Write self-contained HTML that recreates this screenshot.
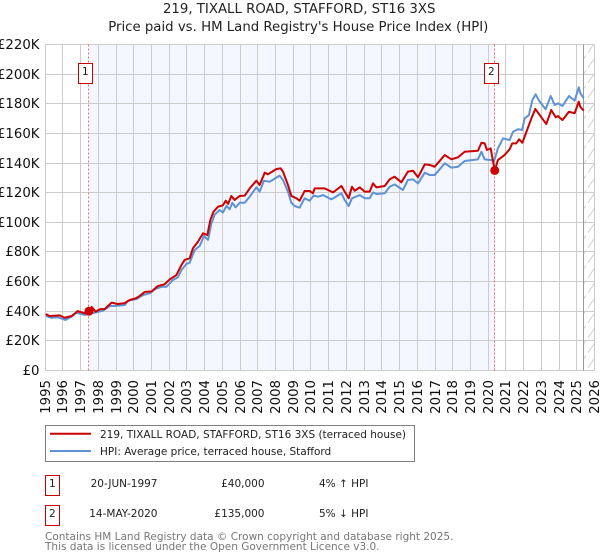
<!DOCTYPE html>
<html>
<head>
<meta charset="utf-8">
<title>219, TIXALL ROAD, STAFFORD, ST16 3XS</title>
<style>
html,body{margin:0;padding:0;background:#fff;}
svg{display:block;font-family:"DejaVu Sans","Liberation Sans",sans-serif;}
</style>
</head>
<body>
<svg id="chart" xmlns="http://www.w3.org/2000/svg" width="600" height="560" viewBox="0 0 600 560">
  <defs>
    <pattern id="hatch" patternUnits="userSpaceOnUse" width="10.5" height="15">
      <path d="M-2 10.5 L8.5 -4.5 M8.5 25.5 L19 10.5 M-2 25.5 L8.5 10.5" stroke="#d0d0d0" stroke-width="1" fill="none"/>
    </pattern>
  </defs>
  <text x="299.2" y="13" text-anchor="middle" font-size="13.3" fill="#222">219, TIXALL ROAD, STAFFORD, ST16 3XS</text>
  <text x="298.3" y="31" text-anchor="middle" font-size="13.3" fill="#222">Price paid vs. HM Land Registry's House Price Index (HPI)</text>
  <g id="plot"></g>

  <g>
    <rect x="45.5" y="425.5" width="369" height="36" fill="#fff" stroke="#808080"/>
    <line x1="50" x2="91" y1="433.7" y2="433.7" stroke="#cc0000" stroke-width="2"/>
    <text x="100" y="438" font-size="10.5" fill="#222">219, TIXALL ROAD, STAFFORD, ST16 3XS (terraced house)</text>
    <line x1="50" x2="91" y1="451" y2="451" stroke="#5f92d4" stroke-width="2"/>
    <text x="100" y="455" font-size="10.5" fill="#222">HPI: Average price, terraced house, Stafford</text>
  </g>

  <g>
    <rect x="45.5" y="475.5" width="14" height="20" fill="#fff" stroke="#cc0000"/>
    <text x="52.3" y="487" text-anchor="middle" font-size="10.5" fill="#222">1</text>
    <text x="157.5" y="487" text-anchor="end" font-size="10.5" fill="#222">20-JUN-1997</text>
    <text x="264.5" y="487" text-anchor="end" font-size="10.5" fill="#222">£40,000</text>
    <text x="319" y="487" font-size="10.5" fill="#222">4% ↑ HPI</text>
  </g>
  <g>
    <rect x="45.5" y="505.5" width="14" height="20" fill="#fff" stroke="#cc0000"/>
    <text x="52.3" y="517" text-anchor="middle" font-size="10.5" fill="#222">2</text>
    <text x="157.5" y="517" text-anchor="end" font-size="10.5" fill="#222">14-MAY-2020</text>
    <text x="264.5" y="517" text-anchor="end" font-size="10.5" fill="#222">£135,000</text>
    <text x="319" y="517" font-size="10.5" fill="#222">5% ↓ HPI</text>
  </g>
  <text x="45" y="540" font-size="10.5" fill="#777">Contains HM Land Registry data © Crown copyright and database right 2025.</text>
  <text x="45" y="550" font-size="10.5" fill="#777">This data is licensed under the Open Government Licence v3.0.</text>
</svg>
<script>
const yearTicks = [1995,1996,1997,1998,1999,2000,2001,2002,2003,2004,2005,2006,2007,2008,2009,2010,2011,2012,2013,2014,2015,2016,2017,2018,2019,2020,2021,2022,2023,2024,2025,2026];
const valueTicks = [0,20,40,60,80,100,120,140,160,180,200,220];
const saleNumbers = [1,2];
const saleYears = [1997.47,2020.37];
const salePrices = [40,135];
const todayYear = 2025.39;

const hpiYears = [1995.03,1995.35,1995.72,1996.14,1996.48,1996.76,1997.23,1997.79,1998.26,1998.64,1998.92,1999.49,1999.67,2000.15,2000.52,2000.90,2001.18,2001.56,2001.84,2002.21,2002.49,2002.69,2002.97,2003.15,2003.44,2003.72,2003.96,2004.19,2004.38,2004.57,2004.85,2005.03,2005.23,2005.41,2005.56,2005.75,2005.98,2006.26,2006.54,2006.92,2007.10,2007.35,2007.67,2008.23,2008.42,2008.70,2008.89,2009.08,2009.36,2009.64,2009.93,2010.15,2010.40,2010.68,2011.15,2011.72,2011.90,2012.13,2012.31,2012.75,2013.03,2013.31,2013.50,2013.69,2014.16,2014.44,2014.72,2015.19,2015.47,2015.76,2016.04,2016.42,2016.70,2016.98,2017.55,2017.92,2018.30,2018.67,2019.42,2019.62,2019.80,2020.18,2020.35,2020.55,2020.84,2021.21,2021.40,2021.68,2021.91,2022.06,2022.30,2022.49,2022.68,2022.87,2023.24,2023.53,2023.75,2023.94,2024.19,2024.56,2024.88,2025.11,2025.20,2025.39];
const hpiValues = [36.8,35.6,35.9,34.1,36.3,39.0,37.5,39.0,40.4,43.5,43.5,44.2,47.1,48.2,50.9,52.1,54.8,56.5,56.5,61.1,62.9,67.8,71.9,72.7,81.3,84.0,90.8,88.1,99.3,105.3,108.3,106.6,111.1,108.8,113.2,110.1,113.2,113.2,117.3,123.6,120.7,128.1,127.4,131.5,128.6,120.7,113.2,111.0,109.9,116.2,114.6,118.0,117.3,118.4,115.5,119.6,115.1,111.0,116.2,118.4,116.2,116.2,120.2,119.1,119.6,124.0,125.6,121.8,128.6,129.0,126.3,133.5,131.9,131.9,139.8,136.9,137.5,141.4,142.5,147.6,142.5,142.0,142.0,149.9,156.7,155.5,161.1,162.8,162.3,170.2,172.4,182.5,186.4,182.1,176.3,185.2,179.2,180.3,178.5,185.2,182.1,191.1,187.1,183.7];

const priceYears = [1995.03,1995.25,1995.82,1996.10,1996.50,1996.83,1997.23,1997.47,1997.62,1997.85,1998.08,1998.36,1998.75,1999.09,1999.49,1999.77,2000.11,2000.33,2000.62,2001.01,2001.35,2001.74,2002.03,2002.40,2002.69,2002.87,2003.15,2003.34,2003.62,2003.91,2004.15,2004.32,2004.50,2004.75,2005.03,2005.19,2005.32,2005.51,2005.69,2005.98,2006.26,2006.54,2006.92,2007.10,2007.39,2007.57,2008.05,2008.29,2008.42,2008.70,2008.89,2009.18,2009.36,2009.64,2009.93,2010.11,2010.21,2010.77,2011.24,2011.72,2011.90,2012.13,2012.31,2012.47,2012.75,2013.03,2013.31,2013.50,2013.69,2014.16,2014.44,2014.72,2015.10,2015.47,2015.76,2016.04,2016.42,2016.70,2016.98,2017.55,2017.92,2018.30,2018.67,2019.42,2019.62,2019.80,2019.93,2020.14,2020.37,2020.55,2020.92,2021.21,2021.36,2021.59,2021.74,2021.93,2022.16,2022.44,2022.66,2022.91,2023.28,2023.56,2023.81,2023.94,2024.19,2024.56,2024.88,2025.11,2025.20,2025.39];
const priceValues = [38.1,36.8,37.2,35.6,36.8,40.1,38.6,40.0,42.9,39.7,41.3,41.5,45.8,44.9,45.5,47.6,48.7,50.3,53.0,53.4,57.0,58.2,61.5,64.4,71.2,74.6,75.7,82.5,86.9,92.6,91.4,101.6,107.2,110.5,111.5,114.6,112.4,117.8,115.1,117.8,118.0,122.9,128.1,125.2,133.5,132.4,136.0,136.4,134.2,125.2,117.8,116.2,114.6,121.1,121.1,119.6,122.9,122.9,120.2,124.5,120.7,116.2,124.0,121.3,123.6,120.7,120.7,126.3,123.6,124.5,129.0,130.8,127.0,134.2,134.8,130.4,139.1,138.7,137.5,145.4,142.5,143.9,147.6,148.3,153.7,153.3,148.8,149.9,135.0,142.0,145.4,149.3,153.3,153.3,156.0,153.7,161.1,170.2,176.5,172.4,166.3,175.8,170.9,171.7,169.0,174.6,173.6,181.4,178.0,175.3];

const SVGNS = 'http://www.w3.org/2000/svg';
const plot = document.getElementById('plot');
const left = 45.2, right = 594.5, top_ = 44.5, bottom = 370.5;
const xMin = 1995, xMax = 2026, vMax = 220;

function xScale(year) { return left + (year - xMin) / (xMax - xMin) * (right - left); }
function yScale(value) { return bottom - value / vMax * (bottom - top_); }
function snap(p) { return Math.floor(p) + 0.5; }
function make(tag, attrs) {
  const el = document.createElementNS(SVGNS, tag);
  for (const k in attrs) el.setAttribute(k, attrs[k]);
  plot.appendChild(el);
  return el;
}
function pathFrom(xs, ys) {
  return xs.map(function (yr, i) {
    return (i ? 'L' : 'M') + xScale(yr).toFixed(2) + ' ' + yScale(ys[i]).toFixed(2);
  }).join(' ');
}

// Shaded band between the two sales
const band = make('rect', {x: xScale(saleYears[0]), y: top_, width: xScale(saleYears[1]) - xScale(saleYears[0]), height: bottom - top_, fill: '#f4f7ff'});



// Hatched region after the last data date
const hatch = make('rect', {x: xScale(todayYear), y: top_, width: right - xScale(todayYear), height: bottom - top_, fill: 'url(#hatch)'});



// Grid and tick labels
valueTicks.forEach(function (v) {
  const y = snap(yScale(v));
  const line = make('line', {x1: left + 0.3, x2: right, y1: y, y2: y, stroke: '#cccccc', 'stroke-width': 1});
  
  
  const t = make('text', {x: 39.5, y: y + 4.5, 'text-anchor': 'end', 'font-size': 13.3, fill: '#111'});
  
  
  t.textContent = '£' + v + (v ? 'K' : '');
});
yearTicks.forEach(function (yr) {
  const x = snap(xScale(yr));
  const line = make('line', {x1: x, x2: x, y1: top_, y2: bottom, stroke: '#cccccc', 'stroke-width': 1});
  
  
  const t = make('text', {transform: 'translate(' + (x + 4.5) + ',380) rotate(-90)', 'text-anchor': 'end', 'font-size': 13.3, fill: '#111'});
  
  
  t.textContent = yr;
});

// Last-data line
const today = make('line', {x1: snap(xScale(todayYear)), x2: snap(xScale(todayYear)), y1: top_, y2: bottom, stroke: '#999999', 'stroke-width': 1});



// Sale marker lines
saleYears.forEach(function (yr) {
  const x = snap(xScale(yr));
  const line = make('line', {x1: x, x2: x, y1: top_, y2: bottom, stroke: '#ff6666', 'stroke-width': 1, 'stroke-dasharray': '2 2'});
  
  
});

// Series
const hpiPath = make('path', {d: pathFrom(hpiYears, hpiValues), fill: 'none', stroke: '#5f92d4', 'stroke-width': 2, 'stroke-linejoin': 'round'});


const pricePath = make('path', {d: pathFrom(priceYears, priceValues), fill: 'none', stroke: '#cc0000', 'stroke-width': 2, 'stroke-linejoin': 'round'});



// Sale points and number badges
saleYears.forEach(function (yr, i) {
  const dot = make('circle', {cx: xScale(yr), cy: yScale(salePrices[i]), r: 4.5, fill: '#cc0000'});
  
  
  const cx = snap(xScale(yr));
  const box = make('rect', {x: cx - 10, y: 63.5, width: 14, height: 20, fill: '#fff', stroke: '#cc0000'});
  
  
  const label = make('text', {x: cx - 3.2, y: 75, 'text-anchor': 'middle', 'font-size': 10.5, fill: '#222'});
  
  
  label.textContent = saleNumbers[i];
});
</script>
</body>
</html>
